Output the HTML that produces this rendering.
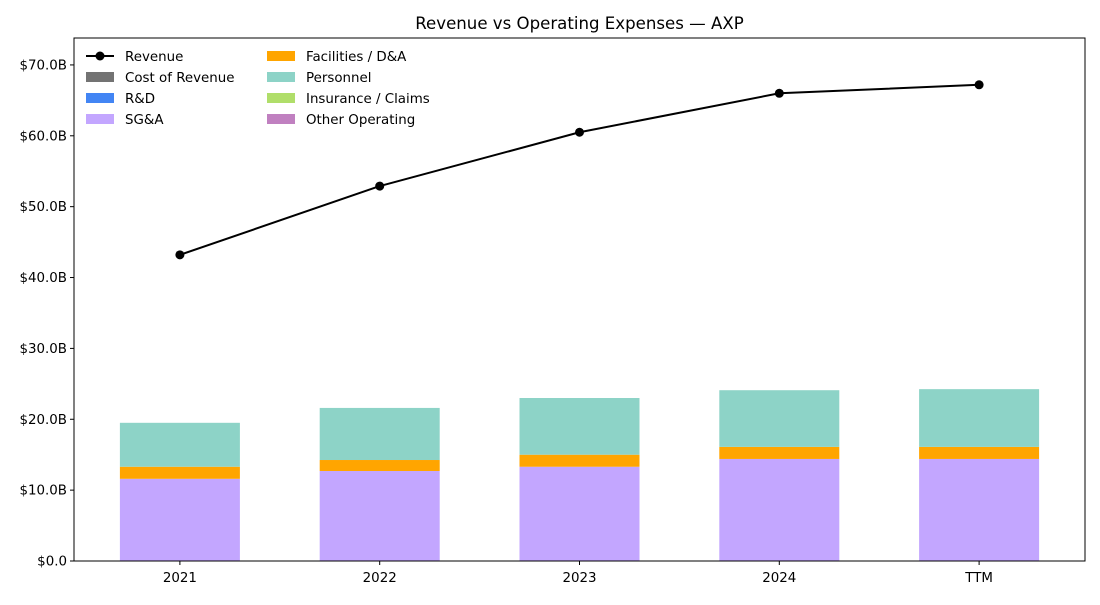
<!DOCTYPE html>
<html><head><meta charset="utf-8">
<style>
body{margin:0;background:#fff;font-family:"Liberation Sans","DejaVu Sans",sans-serif;}
svg text{font-family:"DejaVu Sans","Liberation Sans",sans-serif;}
</style></head>
<body>
<svg id="chart" width="1100" height="600" xmlns="http://www.w3.org/2000/svg">
<text x="579.5" y="29" font-size="16.6" text-anchor="middle">Revenue vs Operating Expenses — AXP</text>
<g id="bars"></g><g id="line"></g><g id="axes"></g><g id="legend"></g>
</svg>
<script>
const categories = ["2021","2022","2023","2024","TTM"];
const revenue = [43.2, 52.9, 60.5, 66.0, 67.2];
const costOfRevenue = [0,0,0,0,0];
const rnd = [0,0,0,0,0];
const sga = [11.6, 12.7, 13.3, 14.4, 14.4];
const facilities = [1.7, 1.55, 1.7, 1.7, 1.7];
const personnel = [6.2, 7.35, 8.0, 8.0, 8.15];
const insurance = [0,0,0,0,0];
const otherOp = [0,0,0,0,0];
const yTicks = [0,10,20,30,40,50,60,70];
const yTickLabels = ["$0.0","$10.0B","$20.0B","$30.0B","$40.0B","$50.0B","$60.0B","$70.0B"];

const L=74,R=1085,T=38,B=561;
const yMax=73.8;
const NS="http://www.w3.org/2000/svg";
function x(i){return L+(i+0.53)*(R-L)/(categories.length-1+1.06);}
function y(v){return B-v/yMax*(B-T);}
function mk(tag,attrs,parent){const e=document.createElementNS(NS,tag);for(const k in attrs)e.setAttribute(k,attrs[k]);parent.appendChild(e);return e;}
const gB=document.getElementById('bars'),gL=document.getElementById('line'),gA=document.getElementById('axes'),gG=document.getElementById('legend');
const series=[["cost-of-revenue",costOfRevenue,"#737373"],["rnd",rnd,"#4285f4"],["sga",sga,"#c3a6ff"],["facilities",facilities,"#ffa500"],["personnel",personnel,"#8dd3c7"],["insurance",insurance,"#b0de6a"],["other-operating",otherOp,"#c080c0"]];
const bw=120;
categories.forEach((c,i)=>{
  let base=0;
  series.forEach(([n,arr,col])=>{
    const v=arr[i]; if(v<=0)return;
    const r=mk('rect',{x:x(i)-bw/2,y:y(base+v),width:bw,height:y(base)-y(base+v),fill:col},gB);
    
    
    base+=v;
  });
});
const pts=revenue.map((v,i)=>x(i)+','+y(v)).join(' ');
const pl=mk('polyline',{points:pts,fill:'none',stroke:'#000','stroke-width':2},gL);


revenue.forEach((v,i)=>{
  const c=mk('circle',{cx:x(i),cy:y(v),r:4.5,fill:'#000'},gL);
  
  
});
const fr=mk('rect',{x:L,y:T,width:R-L,height:B-T,fill:'none',stroke:'#000','stroke-width':1},gA);


yTicks.forEach((t,k)=>{
  mk('line',{x1:L-4,x2:L,y1:y(t),y2:y(t),stroke:'#000'},gA);
  const tx=mk('text',{x:L-7,y:y(t)+4.5,'font-size':13.4,'text-anchor':'end'},gA);
  tx.textContent=yTickLabels[k];
  
  
});
categories.forEach((c,i)=>{
  mk('line',{x1:x(i),x2:x(i),y1:B,y2:B+4,stroke:'#000'},gA);
  const tx=mk('text',{x:x(i),y:B+21,'font-size':13.4,'text-anchor':'middle'},gA);
  tx.textContent=c;
  
  
});
const leg=[["Revenue",null],["Cost of Revenue","#737373"],["R&D","#4285f4"],["SG&A","#c3a6ff"],["Facilities / D&A","#ffa500"],["Personnel","#8dd3c7"],["Insurance / Claims","#b0de6a"],["Other Operating","#c080c0"]];
leg.forEach(([lab,col],k)=>{
  const cx=k<4?86:267, cy=56+(k%4)*21;
  const g=mk('g',{},gG);
  
  
  if(col===null){
    mk('line',{x1:cx,x2:cx+28,y1:cy,y2:cy,stroke:'#000','stroke-width':2},g);
    mk('circle',{cx:cx+14,cy:cy,r:4.5,fill:'#000'},g);
  } else mk('rect',{x:cx,y:cy-5,width:28,height:10,fill:col},g);
  const t=mk('text',{x:cx+39,y:cy+5,'font-size':13.4},g);
  t.textContent=lab;
});
</script>
</body></html>
